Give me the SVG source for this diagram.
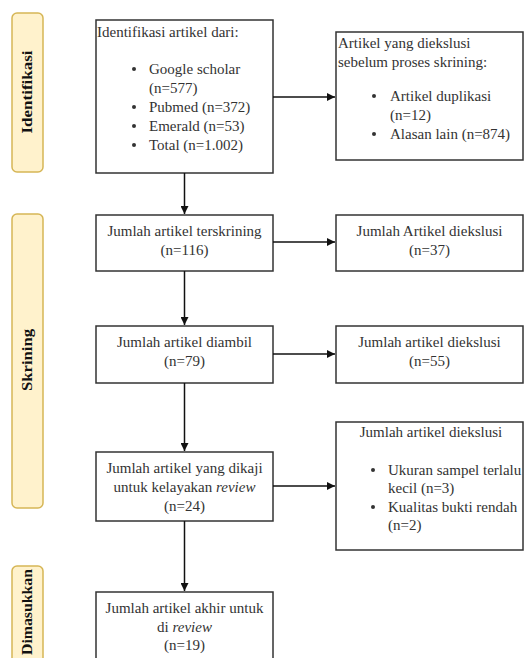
<svg xmlns="http://www.w3.org/2000/svg" width="525" height="658" viewBox="0 0 525 658">
<defs>
<marker id="ah" viewBox="0 0 10 10" refX="10" refY="5" markerWidth="8" markerHeight="8" markerUnits="userSpaceOnUse" orient="auto">
<path d="M0,0 L10,5 L0,10 z" fill="#111"/>
</marker>
<style>
.phase{fill:#fff2cc;stroke:#d6b656;stroke-width:1.5}
.ph{font-family:'Liberation Serif','Times New Roman',Times,'DejaVu Serif',serif;font-weight:bold;font-size:15px;fill:#111;text-anchor:middle}
.box{fill:#fff;stroke:#333;stroke-width:1.5}
.t{font-family:'Liberation Serif','Times New Roman',Times,'DejaVu Serif',serif;font-size:15px;fill:#333}
.c{text-anchor:middle}
.b{fill:#333}
.conn line{stroke:#111;stroke-width:1.5;marker-end:url(#ah)}
</style>
</defs>
<rect width="525" height="658" fill="#fff"/>

<g id="phase-identifikasi">
<rect class="phase" x="12" y="13" width="31" height="159" rx="5"/>
<text class="ph" transform="translate(32,92) rotate(-90)" textLength="83" lengthAdjust="spacingAndGlyphs">Identifikasi</text>
</g>
<g id="phase-skrining">
<rect class="phase" x="12" y="214" width="31" height="294" rx="5"/>
<text class="ph" transform="translate(32,360) rotate(-90)" textLength="62" lengthAdjust="spacingAndGlyphs">Skrining</text>
</g>
<g id="phase-dimasukkan">
<rect class="phase" x="12" y="566" width="31" height="110" rx="5"/>
<text class="ph" transform="translate(32,612) rotate(-90)" textLength="86" lengthAdjust="spacingAndGlyphs">Dimasukkan</text>
</g>

<g id="n-identifikasi">
<rect class="box" x="96" y="20" width="177" height="153"/>
<text class="t" x="97" y="37">Identifikasi artikel dari:</text>
<circle class="b" cx="134" cy="69" r="2"/>
<text class="t" x="149" y="74">Google scholar</text>
<text class="t" x="149" y="93">(n=577)</text>
<circle class="b" cx="134" cy="107" r="2"/>
<text class="t" x="149" y="112">Pubmed (n=372)</text>
<circle class="b" cx="134" cy="126" r="2"/>
<text class="t" x="149" y="131">Emerald (n=53)</text>
<circle class="b" cx="134" cy="145" r="2"/>
<text class="t" x="149" y="150">Total (n=1.002)</text>
</g>

<g id="n-eksklusi-awal">
<rect class="box" x="336" y="32" width="187" height="128"/>
<text class="t" x="338" y="48">Artikel yang diekslusi</text>
<text class="t" x="338" y="67">sebelum proses skrining:</text>
<circle class="b" cx="374" cy="96" r="2"/>
<text class="t" x="390" y="101">Artikel duplikasi</text>
<text class="t" x="390" y="120">(n=12)</text>
<circle class="b" cx="374" cy="134" r="2"/>
<text class="t" x="390" y="139">Alasan lain (n=874)</text>
</g>

<g id="n-terskrining">
<rect class="box" x="96" y="215" width="177" height="56"/>
<text class="t c" x="184.5" y="236">Jumlah artikel terskrining</text>
<text class="t c" x="184.5" y="255">(n=116)</text>
</g>
<g id="n-eksklusi-37">
<rect class="box" x="336" y="215" width="187" height="56"/>
<text class="t c" x="429.5" y="236">Jumlah Artikel diekslusi</text>
<text class="t c" x="429.5" y="255">(n=37)</text>
</g>

<g id="n-diambil">
<rect class="box" x="96" y="326" width="177" height="57"/>
<text class="t c" x="184.5" y="347">Jumlah artikel diambil</text>
<text class="t c" x="184.5" y="366">(n=79)</text>
</g>
<g id="n-eksklusi-55">
<rect class="box" x="336" y="326" width="187" height="57"/>
<text class="t c" x="429.5" y="347">Jumlah artikel diekslusi</text>
<text class="t c" x="429.5" y="366">(n=55)</text>
</g>

<g id="n-dikaji">
<rect class="box" x="96" y="452" width="177" height="69"/>
<text class="t c" x="184.5" y="473">Jumlah artikel yang dikaji</text>
<text class="t c" x="184.5" y="492">untuk kelayakan <tspan font-style="italic">review</tspan></text>
<text class="t c" x="184.5" y="511">(n=24)</text>
</g>
<g id="n-eksklusi-akhir">
<rect class="box" x="336" y="422" width="187" height="128"/>
<text class="t c" x="431" y="437">Jumlah artikel diekslusi</text>
<circle class="b" cx="373" cy="470" r="2"/>
<text class="t" x="388" y="475">Ukuran sampel terlalu</text>
<text class="t" x="388" y="493">kecil (n=3)</text>
<circle class="b" cx="373" cy="507" r="2"/>
<text class="t" x="388" y="512">Kualitas bukti rendah</text>
<text class="t" x="388" y="530">(n=2)</text>
</g>

<g id="n-akhir">
<rect class="box" x="96" y="592" width="177" height="90"/>
<text class="t c" x="184.5" y="613">Jumlah artikel akhir untuk</text>
<text class="t c" x="184.5" y="632">di <tspan font-style="italic">review</tspan></text>
<text class="t c" x="184.5" y="650">(n=19)</text>
</g>

<g id="connectors" class="conn">
<line x1="273" y1="97" x2="335" y2="97"/>
<line x1="184.5" y1="173" x2="184.5" y2="214"/>
<line x1="273" y1="242" x2="335" y2="242"/>
<line x1="184.5" y1="271" x2="184.5" y2="325"/>
<line x1="273" y1="354" x2="335" y2="354"/>
<line x1="184.5" y1="383" x2="184.5" y2="451"/>
<line x1="273" y1="486" x2="335" y2="486"/>
<line x1="184.5" y1="521" x2="184.5" y2="591"/>
</g>
</svg>
